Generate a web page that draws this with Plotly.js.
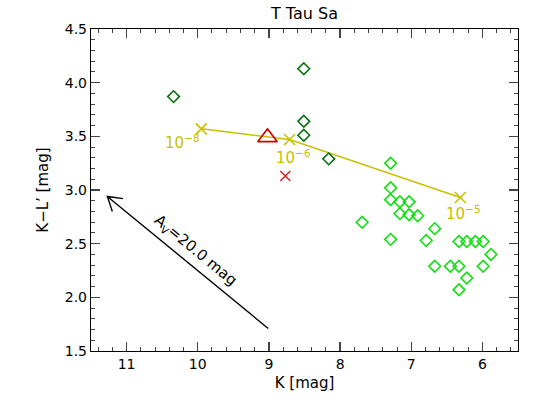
<!DOCTYPE html>
<html>
<head>
<meta charset="utf-8">
<script src="https://cdn.plot.ly/plotly-3.0.1.min.js"></script>
<style>
  html, body { margin: 0; padding: 0; background: #fff; }
  #plot { width: 545px; height: 409px; }
</style>
</head>
<body>
<div id="plot"></div>
<script>
// model track (yellow crosses + line)
var modelK = [9.95, 8.71, 6.31];
var modelKL = [3.57, 3.47, 2.93];
var modelLabels = ['10<sup>\u22128</sup>', '10<sup>\u22126</sup>', '10<sup>\u22125</sup>'];
var labelK = [10.21, 8.66, 6.26];
var labelKL = [3.45, 3.31, 2.79];

// T Tau Sa measurements
var triK = [9.02];
var triKL = [3.49];
var redK = [8.77];
var redKL = [3.13];

// dark green diamonds
var dkK = [10.34, 8.51, 8.51, 8.51, 8.16];
var dkKL = [3.87, 4.13, 3.64, 3.51, 3.29];

// light green diamonds
var ltK = [7.29, 7.29, 7.29, 7.16, 7.03, 7.16, 7.03, 6.91, 7.69, 6.67, 7.29, 6.79,
           6.33, 6.22, 6.10, 5.99, 5.88, 6.67, 6.45, 6.33, 5.99, 6.22, 6.33];
var ltKL = [3.25, 3.02, 2.91, 2.89, 2.89, 2.78, 2.77, 2.76, 2.70, 2.64, 2.54, 2.53,
            2.52, 2.52, 2.52, 2.52, 2.40, 2.29, 2.29, 2.29, 2.29, 2.18, 2.07];

var xRange = [11.5, 5.5];
var yRange = [1.5, 4.5];

var yel = '#c8c000';
var fnt = 'DejaVu Sans, sans-serif';

var data = [
  {x: modelK, y: modelKL, mode: 'lines+markers', type: 'scatter',
   line: {color: yel, width: 1.5},
   marker: {symbol: 'x-thin-open', size: 11, line: {color: yel, width: 1.6}}},
  {x: dkK, y: dkKL, mode: 'markers', type: 'scatter',
   marker: {symbol: 'diamond-open', size: 9, color: '#0a7010', line: {width: 1.6}}},
  {x: ltK, y: ltKL, mode: 'markers', type: 'scatter',
   marker: {symbol: 'diamond-open', size: 9, color: '#10e010', line: {width: 1.6}}},
  {x: redK, y: redKL, mode: 'markers', type: 'scatter',
   marker: {symbol: 'x-thin-open', size: 10, line: {color: '#e00000', width: 1.6}}},
  {x: triK, y: triKL, mode: 'markers', type: 'scatter',
   marker: {symbol: 'triangle-up-open', size: 17, color: '#d00000', line: {width: 1.6}}},
  // empty trace to activate the top/right tick axes
  {x: [], y: [], xaxis: 'x2', yaxis: 'y2', type: 'scatter', mode: 'markers'}
];

var annotations = modelLabels.map(function (t, i) {
  return {x: labelK[i], y: labelKL[i], xref: 'x', yref: 'y', text: t,
          showarrow: false, font: {family: fnt, size: 15, color: yel}};
});
annotations.push({x: 10.03, y: 2.44, xref: 'x', yref: 'y',
  text: 'A<sub>V</sub>=20.0 mag', showarrow: false, textangle: 39.5,
  font: {family: fnt, size: 15, color: '#000'}});

function tickAxis(extra) {
  var a = {
    autorange: false, ticks: 'inside', ticklen: 9, tickwidth: 1.2,
    showline: true, linecolor: '#000', linewidth: 1.2,
    showgrid: false, zeroline: false
  };
  for (var k in extra) a[k] = extra[k];
  return a;
}

var layout = {
  width: 545, height: 409,
  margin: {l: 91, r: 27, t: 29, b: 58},
  paper_bgcolor: '#fff', plot_bgcolor: '#fff',
  showlegend: false,
  font: {family: fnt, size: 14, color: '#000'},
  title: {text: 'T Tau Sa', x: 0.5, xref: 'paper', y: 0.968, yanchor: 'middle',
          font: {family: fnt, size: 16, color: '#000'}},
  xaxis: tickAxis({
    range: xRange, tick0: 6, dtick: 1,
    minor: {ticks: 'inside', dtick: 0.2, ticklen: 4, tickwidth: 1, showgrid: false},
    title: {text: 'K [mag]', standoff: 6, font: {family: fnt, size: 15}},
    tickfont: {family: fnt, size: 14}
  }),
  yaxis: tickAxis({
    range: yRange, tick0: 1.5, dtick: 0.5, tickformat: '.1f',
    minor: {ticks: 'inside', dtick: 0.1, ticklen: 4, tickwidth: 1, showgrid: false},
    title: {text: 'K\u2212L\u2019 [mag]', standoff: 12, font: {family: fnt, size: 15}},
    tickfont: {family: fnt, size: 14}
  }),
  xaxis2: tickAxis({
    range: xRange, tick0: 6, dtick: 1, overlaying: 'x', side: 'top', anchor: 'y2',
    showticklabels: false,
    minor: {ticks: 'inside', dtick: 0.2, ticklen: 4, tickwidth: 1, showgrid: false}
  }),
  yaxis2: tickAxis({
    range: yRange, tick0: 1.5, dtick: 0.5, overlaying: 'y', side: 'right', anchor: 'x2',
    showticklabels: false,
    minor: {ticks: 'inside', dtick: 0.1, ticklen: 4, tickwidth: 1, showgrid: false}
  }),
  annotations: annotations,
  shapes: [
    {type: 'path', xref: 'x', yref: 'y',
     path: 'M 9.01,1.71 L 11.27,2.94 M 11.05,2.92 L 11.27,2.94 L 11.20,2.80',
     line: {color: '#000', width: 1.4}}
  ]
};

Plotly.newPlot('plot', data, layout, {displayModeBar: false, staticPlot: true});
</script>
</body>
</html>
